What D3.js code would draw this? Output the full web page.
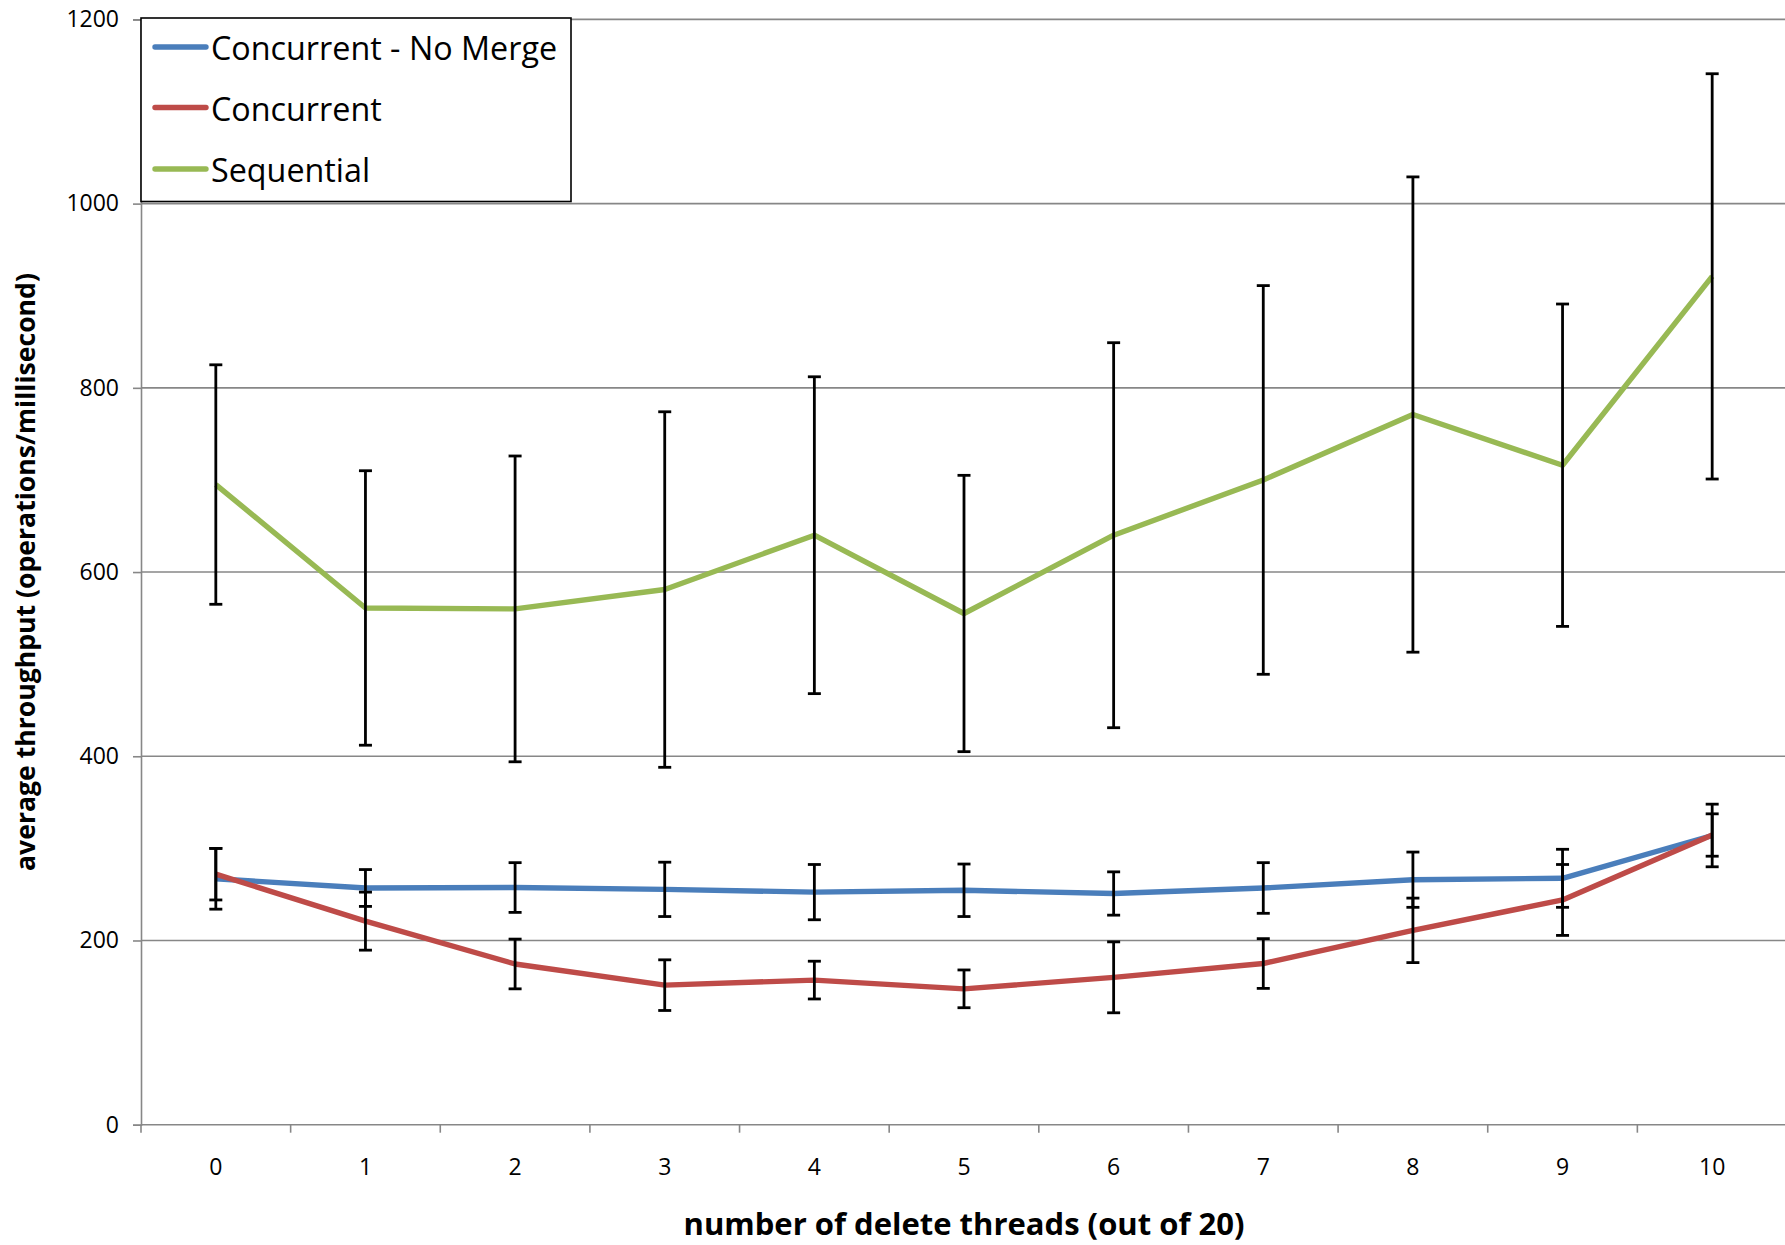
<!DOCTYPE html>
<html>
<head>
<meta charset="utf-8">
<script src="https://cdn.jsdelivr.net/npm/d3@7"></script>
<style>
  html, body { margin: 0; padding: 0; background: #fff; }
  svg { display: block; }
  text { font-family: "Open Sans", "Liberation Sans", sans-serif; fill: #000; }
</style>
</head>
<body>
<svg id="chart" width="1785" height="1245"></svg>
<script>
// Number of delete threads (out of 20 threads total)
const threads = [0, 1, 2, 3, 4, 5, 6, 7, 8, 9, 10];

// Average throughput (operations/millisecond) and error-bar half widths
const noMergeMean = [267, 257, 257.5, 255.5, 252.5, 254.5, 251, 257, 266, 267.5, 314];
const noMergeErr  = [33, 20, 27, 29.5, 30, 28.5, 23.5, 27.5, 30, 31.5, 34];

const concurrentMean = [272, 221, 174.5, 151.5, 157, 147.5, 160, 175, 211, 244, 314.5];
const concurrentErr  = [28, 31.5, 27, 27.5, 20.5, 20.5, 38.5, 27, 35, 38.5, 23];

const sequentialMean = [695, 561, 560, 581, 640, 555, 640, 700, 771, 716, 921];
const sequentialErr  = [130, 149, 166, 193, 172, 150, 209, 211, 258, 175, 220];

const yTicks = [0, 200, 400, 600, 800, 1000, 1200];

const seriesNames  = ["Concurrent - No Merge", "Concurrent", "Sequential"];
const seriesColors = ["#4a7ebb", "#be4b48", "#98b954"];
const seriesMeans  = [noMergeMean, concurrentMean, sequentialMean];
const seriesErrs   = [noMergeErr, concurrentErr, sequentialErr];

const xTitle = "number of delete threads (out of 20)";
const yTitle = "average throughput (operations/millisecond)";

const svg = d3.select("#chart");
const plot = { left: 141, right: 1787, top: 19.4, bottom: 1124.7 };

const x = d3.scaleBand().domain(threads).range([plot.left, plot.right]).padding(0);
const y = d3.scaleLinear().domain([0, 1200]).range([plot.bottom, plot.top]);
const cx = d => x(d) + x.bandwidth() / 2;

const axisColor = "#878787";

// horizontal gridlines
svg.append("g").selectAll("line")
  .data(yTicks.filter(t => t > 0))
  .join("line")
  .attr("x1", plot.left).attr("x2", plot.right)
  .attr("y1", d => y(d)).attr("y2", d => y(d))
  .attr("stroke", axisColor).attr("stroke-width", 1.6);

// y axis
const yAxis = svg.append("g")
  .attr("transform", `translate(${plot.left},0)`)
  .call(d3.axisLeft(y).tickValues(yTicks).tickSize(8).tickPadding(14).tickFormat(d3.format("d")));
yAxis.select(".domain").attr("stroke", axisColor).attr("stroke-width", 1.6);
yAxis.selectAll(".tick line").attr("stroke", axisColor).attr("stroke-width", 1.6);
yAxis.selectAll(".tick text").attr("font-size", 23).attr("font-family", "Open Sans");

// x axis: ticks on band boundaries, labels at band centres
const xAxisG = svg.append("g").attr("transform", `translate(0,${plot.bottom})`);
xAxisG.append("line")
  .attr("x1", plot.left).attr("x2", plot.right)
  .attr("stroke", axisColor).attr("stroke-width", 1.6);
const boundaries = threads.map(d => x(d)).concat([plot.right]);
xAxisG.selectAll("line.tick")
  .data(boundaries)
  .join("line").attr("class", "tick")
  .attr("x1", d => d).attr("x2", d => d)
  .attr("y1", 0).attr("y2", 8)
  .attr("stroke", axisColor).attr("stroke-width", 1.6);
xAxisG.selectAll("text")
  .data(threads)
  .join("text")
  .attr("x", d => cx(d)).attr("y", 41)
  .attr("text-anchor", "middle").attr("dominant-baseline", "central")
  .attr("font-size", 23)
  .text(d => d);

// series lines
const line = d3.line().x((d, i) => cx(threads[i])).y(d => y(d));
seriesMeans.forEach((vals, s) => {
  svg.append("path")
    .datum(vals)
    .attr("d", line)
    .attr("fill", "none")
    .attr("stroke", seriesColors[s])
    .attr("stroke-width", 5.4)
    .attr("stroke-linejoin", "round");
});

// error bars
const cap = 6.5;
seriesMeans.forEach((vals, s) => {
  const g = svg.append("g").attr("stroke", "#000").attr("stroke-width", 2.8);
  vals.forEach((v, i) => {
    const px = cx(threads[i]);
    const hi = y(v + seriesErrs[s][i]);
    const lo = y(v - seriesErrs[s][i]);
    g.append("line").attr("x1", px).attr("x2", px).attr("y1", hi).attr("y2", lo);
    g.append("line").attr("x1", px - cap).attr("x2", px + cap).attr("y1", hi).attr("y2", hi);
    g.append("line").attr("x1", px - cap).attr("x2", px + cap).attr("y1", lo).attr("y2", lo);
  });
});

// legend
const legend = svg.append("g");
legend.append("rect")
  .attr("x", 141).attr("y", 18)
  .attr("width", 430).attr("height", 183.5)
  .attr("fill", "#fff").attr("stroke", "#000").attr("stroke-width", 1.6);
const rowY = [47, 107.5, 169];
seriesNames.forEach((name, s) => {
  legend.append("line")
    .attr("x1", 155).attr("x2", 206)
    .attr("y1", rowY[s]).attr("y2", rowY[s])
    .attr("stroke", seriesColors[s]).attr("stroke-width", 5.4)
    .attr("stroke-linecap", "round");
  legend.append("text")
    .attr("x", 211).attr("y", rowY[s])
    .attr("dominant-baseline", "central")
    .attr("font-size", 32.3)
    .text(name);
});

// axis titles
svg.append("text")
  .attr("x", (plot.left + plot.right) / 2).attr("y", 1223)
  .attr("text-anchor", "middle").attr("dominant-baseline", "central")
  .attr("font-size", 31).attr("font-weight", "bold")
  .text(xTitle);

svg.append("text")
  .attr("transform", `translate(25,${(plot.top + plot.bottom) / 2}) rotate(-90)`)
  .attr("text-anchor", "middle").attr("dominant-baseline", "central")
  .attr("font-size", 26.6).attr("font-weight", "bold")
  .text(yTitle);
</script>
</body>
</html>
